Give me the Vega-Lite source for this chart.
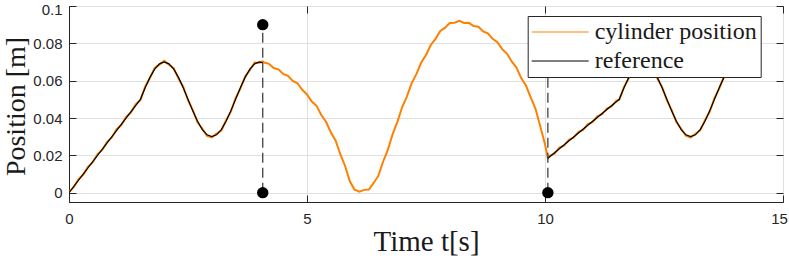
{
  "$schema": "https://vega.github.io/schema/vega-lite/v6.json",
  "width": 714,
  "height": 196,
  "autosize": "none",
  "padding": {"left": 69, "top": 6, "right": 6, "bottom": 56},
  "background": "white",
  "datasets": {
    "meas": [
      {"t":0,"y":0.0003},{"t":0.1,"y":0.0030},{"t":0.2,"y":0.0072},{"t":0.3,"y":0.0097},{"t":0.4,"y":0.0139},{"t":0.5,"y":0.0163},{"t":0.6,"y":0.0207},{"t":0.7,"y":0.0229},{"t":0.8,"y":0.0272},{"t":0.9,"y":0.0296},
      {"t":1.0,"y":0.0340},{"t":1.1,"y":0.0362},{"t":1.2,"y":0.0406},{"t":1.3,"y":0.0429},{"t":1.4,"y":0.0473},{"t":1.5,"y":0.0496},{"t":1.6,"y":0.0568},{"t":1.7,"y":0.0614},{"t":1.8,"y":0.0668},{"t":1.9,"y":0.0686},
      {"t":2.0,"y":0.0706},{"t":2.1,"y":0.0685},{"t":2.2,"y":0.0667},{"t":2.3,"y":0.0611},{"t":2.4,"y":0.0568},{"t":2.5,"y":0.0495},{"t":2.6,"y":0.0444},{"t":2.7,"y":0.0377},{"t":2.8,"y":0.0344},{"t":2.9,"y":0.0304},
      {"t":3.0,"y":0.0296},{"t":3.1,"y":0.0316},{"t":3.2,"y":0.0333},{"t":3.3,"y":0.0388},{"t":3.4,"y":0.0434},{"t":3.5,"y":0.0506},{"t":3.6,"y":0.0557},{"t":3.7,"y":0.0623},{"t":3.8,"y":0.0656},{"t":3.9,"y":0.0697},
      {"t":4.0,"y":0.0696},{"t":4.07,"y":0.0703},{"t":4.1,"y":0.0697},{"t":4.2,"y":0.0690},{"t":4.3,"y":0.0668},{"t":4.4,"y":0.0661},{"t":4.5,"y":0.0636},{"t":4.6,"y":0.0626},{"t":4.7,"y":0.0599},{"t":4.8,"y":0.0586},{"t":4.9,"y":0.0551},
      {"t":5.0,"y":0.0526},{"t":5.1,"y":0.0488},{"t":5.2,"y":0.0465},{"t":5.3,"y":0.0416},{"t":5.4,"y":0.0380},{"t":5.5,"y":0.0324},{"t":5.6,"y":0.0280},{"t":5.7,"y":0.0206},{"t":5.8,"y":0.0143},{"t":5.9,"y":0.0061},
      {"t":6.0,"y":0.0016},{"t":6.1,"y":0.0005},{"t":6.2,"y":0.0015},{"t":6.3,"y":0.0017},{"t":6.4,"y":0.0052},{"t":6.5,"y":0.0091},{"t":6.6,"y":0.0167},{"t":6.7,"y":0.0231},{"t":6.8,"y":0.0314},{"t":6.9,"y":0.0381},
      {"t":7.0,"y":0.0459},{"t":7.1,"y":0.0516},{"t":7.2,"y":0.0587},{"t":7.3,"y":0.0636},{"t":7.4,"y":0.0697},{"t":7.5,"y":0.0738},{"t":7.6,"y":0.0791},{"t":7.7,"y":0.0824},{"t":7.8,"y":0.0866},{"t":7.9,"y":0.0884},
      {"t":8.0,"y":0.0909},{"t":8.1,"y":0.0910},{"t":8.2,"y":0.0920},{"t":8.3,"y":0.0909},{"t":8.4,"y":0.0910},{"t":8.5,"y":0.0893},{"t":8.6,"y":0.0889},{"t":8.7,"y":0.0864},{"t":8.8,"y":0.0854},{"t":8.9,"y":0.0824},
      {"t":9.0,"y":0.0806},{"t":9.1,"y":0.0769},{"t":9.2,"y":0.0745},{"t":9.3,"y":0.0703},{"t":9.4,"y":0.0670},{"t":9.5,"y":0.0614},{"t":9.6,"y":0.0574},{"t":9.7,"y":0.0511},{"t":9.8,"y":0.0449},{"t":9.9,"y":0.0356},
      {"t":10.0,"y":0.0259},{"t":10.06,"y":0.0184},{"t":10.1,"y":0.0197},{"t":10.2,"y":0.0209},{"t":10.3,"y":0.0241},{"t":10.4,"y":0.0252},{"t":10.5,"y":0.0283},{"t":10.6,"y":0.0294},{"t":10.7,"y":0.0325},{"t":10.8,"y":0.0336},{"t":10.9,"y":0.0367},
      {"t":11.0,"y":0.0378},{"t":11.1,"y":0.0409},{"t":11.2,"y":0.0420},{"t":11.3,"y":0.0451},{"t":11.4,"y":0.0462},{"t":11.5,"y":0.0493},{"t":11.56,"y":0.0497},{"t":11.66,"y":0.0566},{"t":11.76,"y":0.0613},{"t":11.86,"y":0.0666},{"t":11.96,"y":0.0687},
      {"t":12.06,"y":0.0705},{"t":12.16,"y":0.0686},{"t":12.26,"y":0.0667},{"t":12.36,"y":0.0612},{"t":12.46,"y":0.0567},{"t":12.56,"y":0.0496},{"t":12.66,"y":0.0443},{"t":12.76,"y":0.0378},{"t":12.86,"y":0.0344},{"t":12.96,"y":0.0305},
      {"t":13.06,"y":0.0295},{"t":13.16,"y":0.0316},{"t":13.26,"y":0.0334},{"t":13.36,"y":0.0388},{"t":13.46,"y":0.0433},{"t":13.56,"y":0.0506},{"t":13.66,"y":0.0557},{"t":13.76,"y":0.0623},{"t":13.86,"y":0.0657},{"t":13.96,"y":0.0696},{"t":14.06,"y":0.0697}
    ],
    "ref": [
      {"t":0,"y":0,"seg":1},{"t":1.5,"y":0.05,"seg":1},{"t":1.6,"y":0.05618,"seg":1},{"t":1.7,"y":0.06176,"seg":1},{"t":1.8,"y":0.06618,"seg":1},{"t":1.9,"y":0.06902,"seg":1},
      {"t":2.0,"y":0.07,"seg":1},{"t":2.1,"y":0.06902,"seg":1},{"t":2.2,"y":0.06618,"seg":1},{"t":2.3,"y":0.06176,"seg":1},{"t":2.4,"y":0.05618,"seg":1},{"t":2.5,"y":0.05,"seg":1},{"t":2.6,"y":0.04382,"seg":1},{"t":2.7,"y":0.03824,"seg":1},{"t":2.8,"y":0.03382,"seg":1},{"t":2.9,"y":0.03098,"seg":1},
      {"t":3.0,"y":0.03,"seg":1},{"t":3.1,"y":0.03098,"seg":1},{"t":3.2,"y":0.03382,"seg":1},{"t":3.3,"y":0.03824,"seg":1},{"t":3.4,"y":0.04382,"seg":1},{"t":3.5,"y":0.05,"seg":1},{"t":3.6,"y":0.05618,"seg":1},{"t":3.7,"y":0.06176,"seg":1},{"t":3.8,"y":0.06618,"seg":1},{"t":3.9,"y":0.06902,"seg":1},
      {"t":4.0,"y":0.07,"seg":1},{"t":4.07,"y":0.0695,"seg":1},
      {"t":10.06,"y":0.0184,"seg":2},{"t":11.56,"y":0.05,"seg":2},{"t":11.66,"y":0.05618,"seg":2},{"t":11.76,"y":0.06176,"seg":2},{"t":11.86,"y":0.06618,"seg":2},{"t":11.96,"y":0.06902,"seg":2},
      {"t":12.06,"y":0.07,"seg":2},{"t":12.16,"y":0.06902,"seg":2},{"t":12.26,"y":0.06618,"seg":2},{"t":12.36,"y":0.06176,"seg":2},{"t":12.46,"y":0.05618,"seg":2},{"t":12.56,"y":0.05,"seg":2},{"t":12.66,"y":0.04382,"seg":2},{"t":12.76,"y":0.03824,"seg":2},{"t":12.86,"y":0.03382,"seg":2},{"t":12.96,"y":0.03098,"seg":2},
      {"t":13.06,"y":0.03,"seg":2},{"t":13.16,"y":0.03098,"seg":2},{"t":13.26,"y":0.03382,"seg":2},{"t":13.36,"y":0.03824,"seg":2},{"t":13.46,"y":0.04382,"seg":2},{"t":13.56,"y":0.05,"seg":2},{"t":13.66,"y":0.05618,"seg":2},{"t":13.76,"y":0.06176,"seg":2},{"t":13.86,"y":0.06618,"seg":2},{"t":13.96,"y":0.06902,"seg":2},{"t":14.06,"y":0.07,"seg":2}
    ],
    "events": [
      {"t":4.07,"y0":0,"y1":0.09},
      {"t":10.06,"y0":0,"y1":0.09}
    ],
    "dots": [
      {"t":4.07,"y":0.09},{"t":4.07,"y":0},{"t":10.06,"y":0.09},{"t":10.06,"y":0}
    ]
  },
  "layer": [
    {
      "data": {"name": "meas"},
      "transform": [{"calculate": "'cylinder position'", "as": "series"}],
      "mark": {"type": "line", "strokeWidth": 2, "clip": true},
      "encoding": {
        "x": {"field": "t", "type": "quantitative",
          "scale": {"domain": [0, 15], "nice": false, "zero": false},
          "axis": {"values": [0, 5, 10, 15], "title": "Time t[s]", "grid": true, "tickSize": -7, "labelPadding": 16, "labelFlush": false,
            "labelOffset": {"expr": "datum.value == 15 ? -4 : 0"},
            "titleY": 48, "titleBaseline": "alphabetic", "titleFontSize": 29}},
        "y": {"field": "y", "type": "quantitative",
          "scale": {"domain": [-0.005, 0.1], "nice": false, "zero": false},
          "axis": {"values": [0, 0.02, 0.04, 0.06, 0.08, 0.1], "format": "~g", "title": "Position [m]", "grid": true, "tickSize": -7, "labelPadding": 14,
            "labelOffset": {"expr": "datum.value == 0.1 ? 3 : 0"},
            "titleX": -45, "titleY": 100, "titleBaseline": "alphabetic"}},
        "color": {"field": "series", "type": "nominal",
          "scale": {"domain": ["cylinder position", "reference"], "range": ["#ff8000", "#000000"]},
          "legend": {"title": null}}
      }
    },
    {
      "data": {"name": "ref"},
      "transform": [{"calculate": "'reference'", "as": "series"}],
      "mark": {"type": "line", "strokeWidth": 1.2, "clip": true},
      "encoding": {
        "x": {"field": "t", "type": "quantitative", "axis": null},
        "y": {"field": "y", "type": "quantitative", "axis": null},
        "detail": {"field": "seg", "type": "nominal"},
        "color": {"field": "series", "type": "nominal"}
      }
    },
    {
      "data": {"name": "events"},
      "mark": {"type": "rule", "color": "#404040", "strokeWidth": 1.3, "strokeDash": [10, 5]},
      "encoding": {
        "x": {"field": "t", "type": "quantitative", "axis": null},
        "y": {"field": "y0", "type": "quantitative", "axis": null},
        "y2": {"field": "y1"}
      }
    },
    {
      "data": {"name": "dots"},
      "mark": {"type": "circle", "color": "#000000", "opacity": 1, "size": 130},
      "encoding": {
        "x": {"field": "t", "type": "quantitative",
          "axis": {"orient": "top", "values": [0, 5, 10, 15], "labels": false, "grid": false, "title": null, "tickSize": -7, "domain": false}},
        "y": {"field": "y", "type": "quantitative",
          "axis": {"orient": "right", "values": [0, 0.02, 0.04, 0.06, 0.08, 0.1], "labels": false, "grid": false, "title": null, "tickSize": -7, "domain": false}}
      }
    }
  ],
  "resolve": {"axis": {"x": "independent", "y": "independent"}},
  "config": {
    "view": {"stroke": "#262626", "strokeWidth": 1},
    "axis": {
      "domainColor": "#262626",
      "tickColor": "#262626",
      "gridColor": "#e0e0e0",
      "gridWidth": 1,
      "labelFont": "Liberation Sans",
      "labelFontSize": 15,
      "labelColor": "#262626",
      "titleFont": "Liberation Serif",
      "titleFontSize": 28,
      "titleFontWeight": "normal",
      "titleColor": "#1a1a1a"
    },
    "legend": {
      "orient": "none",
      "legendX": 458.7,
      "legendY": 10,
      "padding": 4,
      "strokeColor": "#262626",
      "fillColor": "white",
      "labelFont": "Liberation Serif",
      "labelFontSize": 24,
      "labelColor": "#1a1a1a",
      "labelLimit": 400,
      "symbolType": "M-2.4,0H9",
      "symbolSize": 100,
      "symbolStrokeWidth": 1.2,
      "labelOffset": 39,
      "rowPadding": 5
    }
  }
}
